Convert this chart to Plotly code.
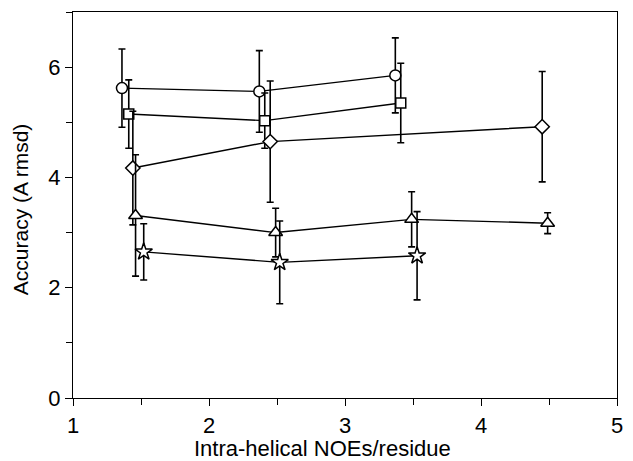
import plotly.graph_objects as go

# Data
circ_x = [1.36, 2.37, 3.37]
circ_y = [5.62, 5.56, 5.85]
circ_e = [0.71, 0.74, 0.68]

sq_x = [1.41, 2.41, 3.41]
sq_y = [5.15, 5.03, 5.35]
sq_e = [0.62, 0.50, 0.72]

dia_x = [1.44, 2.45, 4.45]
dia_y = [4.17, 4.65, 4.92]
dia_e = [1.03, 1.10, 1.00]

tri_x = [1.46, 2.49, 3.49, 4.49]
tri_y = [3.31, 3.00, 3.24, 3.17]
tri_e = [1.10, 0.44, 0.50, 0.19]

star_x = [1.52, 2.52, 3.53]
star_y = [2.65, 2.46, 2.58]
star_e = [0.51, 0.75, 0.80]

series = [
    (circ_x, circ_y, circ_e, "circle", 11),
    (sq_x, sq_y, sq_e, "square", 10),
    (dia_x, dia_y, dia_e, "diamond", 11),
    (tri_x, tri_y, tri_e, "triangle-up", 12),
    (star_x, star_y, star_e, "star", 13),
]

FONT = "Liberation Sans, Arial, sans-serif"

fig = go.Figure()
for xs, ys, es, sym, sz in series:
    fig.add_trace(go.Scatter(
        x=xs, y=ys, mode="lines+markers",
        line=dict(color="black", width=1.4),
        marker=dict(symbol=sym, size=sz, color="white",
                    line=dict(color="black", width=1.5)),
        error_y=dict(type="data", array=es, visible=True,
                     color="black", thickness=1.6, width=3.5),
        showlegend=False,
        cliponaxis=False,
    ))

axis_common = dict(
    showline=True, linecolor="black", linewidth=1.4, mirror=True,
    ticks="outside", tickcolor="black", tickwidth=1.4, ticklen=7,
    showgrid=False, zeroline=False,
    tickfont=dict(family=FONT, size=22, color="black"),
)

fig.update_xaxes(range=[1, 5], dtick=1, tick0=1,
                 minor=dict(dtick=0.5, ticks="outside", ticklen=6,
                            tickcolor="black", tickwidth=1.4),
                 **axis_common)
fig.update_yaxes(range=[0, 7], dtick=2, tick0=0,
                 minor=dict(dtick=1, ticks="outside", ticklen=6,
                            tickcolor="black", tickwidth=1.4),
                 **axis_common)

fig.update_layout(
    width=633, height=461,
    margin=dict(l=73, r=10, t=12, b=63),
    paper_bgcolor="white", plot_bgcolor="white",
    annotations=[
        dict(text="Intra-helical NOEs/residue", xref="paper", yref="paper",
             x=0.458, y=-0.130, xanchor="center", yanchor="middle",
             showarrow=False, font=dict(family=FONT, size=22, color="black")),
        dict(text="Accuracy (A rmsd)", xref="paper", yref="paper",
             x=-0.095, y=0.49, xanchor="center", yanchor="middle", textangle=-90,
             showarrow=False, font=dict(family=FONT, size=21, color="black")),
    ],
)

fig.write_html("out.html")
